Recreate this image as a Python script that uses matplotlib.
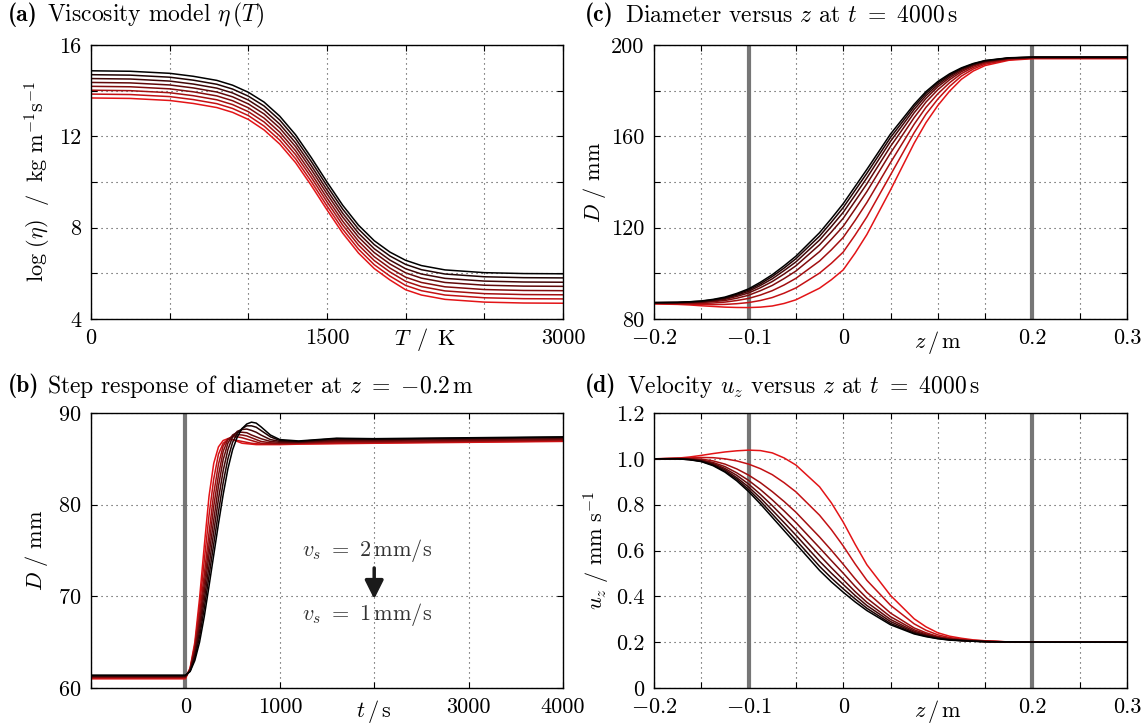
import numpy as np
import matplotlib
matplotlib.use('Agg')
import matplotlib.pyplot as plt

plt.rcParams['font.family'] = 'serif'
plt.rcParams['font.serif'] = ['cmr10']
plt.rcParams['mathtext.fontset'] = 'cm'
plt.rcParams['axes.formatter.use_mathtext'] = True
plt.rcParams['font.size'] = 16

# (a) viscosity model, 8 curves from black (v_s = 2 mm/s) to red (v_s = 1 mm/s)
T_a = [0, 250, 500, 650, 800, 900, 1000, 1100, 1200, 1300, 1400, 1500, 1600, 1700, 1800, 1900,
       2000, 2100, 2250, 2500, 2750, 3000]
eta_a = [
    [14.87, 14.85, 14.76, 14.63, 14.45, 14.24, 13.93, 13.50, 12.88, 12.07, 11.07, 10.00, 8.98, 8.11, 7.43, 6.93, 6.57, 6.34, 6.15, 6.03, 5.99, 5.98],
    [14.70, 14.68, 14.59, 14.46, 14.28, 14.07, 13.76, 13.33, 12.71, 11.90, 10.90, 9.83, 8.81, 7.94, 7.26, 6.76, 6.39, 6.16, 5.97, 5.85, 5.81, 5.80],
    [14.53, 14.51, 14.42, 14.29, 14.11, 13.90, 13.59, 13.15, 12.53, 11.72, 10.72, 9.65, 8.63, 7.76, 7.08, 6.58, 6.20, 5.97, 5.78, 5.66, 5.62, 5.61],
    [14.36, 14.34, 14.25, 14.12, 13.94, 13.73, 13.42, 12.98, 12.36, 11.55, 10.55, 9.48, 8.46, 7.59, 6.91, 6.41, 6.02, 5.79, 5.60, 5.48, 5.44, 5.43],
    [14.19, 14.17, 14.08, 13.95, 13.77, 13.56, 13.25, 12.80, 12.18, 11.37, 10.37, 9.30, 8.28, 7.41, 6.73, 6.23, 5.83, 5.60, 5.41, 5.29, 5.25, 5.24],
    [14.02, 14.00, 13.91, 13.78, 13.60, 13.39, 13.08, 12.63, 12.01, 11.20, 10.20, 9.13, 8.11, 7.24, 6.56, 6.06, 5.65, 5.42, 5.23, 5.11, 5.07, 5.06],
    [13.85, 13.83, 13.74, 13.61, 13.43, 13.22, 12.91, 12.45, 11.83, 11.02, 10.02, 8.95, 7.93, 7.06, 6.38, 5.88, 5.47, 5.24, 5.05, 4.93, 4.89, 4.88],
    [13.68, 13.66, 13.57, 13.44, 13.26, 13.05, 12.74, 12.28, 11.66, 10.85, 9.85, 8.78, 7.76, 6.89, 6.21, 5.71, 5.28, 5.05, 4.86, 4.74, 4.70, 4.69],
]

# (b) step response of diameter at z = -0.2 m
t_b = [-1000, 0, 50, 100, 150, 200, 250, 300, 350, 400, 450, 500, 550, 600, 650, 700, 750, 800,
       900, 1000, 1200, 1600, 2000, 4000]
D_b = [
    [61.4, 61.4, 61.8, 63.0, 65.0, 67.8, 71.1, 74.5, 77.9, 81.1, 83.9, 86.0, 87.4, 88.3, 88.8, 89.0, 88.9, 88.5, 87.6, 87.1, 86.95, 87.25, 87.2, 87.4],
    [61.35, 61.35, 61.85, 63.3, 65.6, 68.7, 72.2, 75.7, 79.2, 82.4, 85.0, 86.8, 87.8, 88.3, 88.6, 88.6, 88.45, 88.1, 87.4, 87.0, 86.9, 87.2, 87.15, 87.35],
    [61.3, 61.3, 61.9, 63.6, 66.2, 69.6, 73.3, 77.0, 80.6, 83.7, 86.0, 87.4, 88.0, 88.2, 88.25, 88.1, 87.9, 87.6, 87.1, 86.9, 86.85, 87.1, 87.1, 87.3],
    [61.25, 61.25, 61.95, 63.9, 66.8, 70.5, 74.5, 78.3, 82.0, 84.9, 86.7, 87.6, 87.9, 87.9, 87.85, 87.6, 87.4, 87.2, 86.9, 86.8, 86.8, 87.0, 87.0, 87.2],
    [61.2, 61.2, 62.0, 64.2, 67.4, 71.4, 75.6, 79.8, 83.2, 85.8, 87.1, 87.5, 87.65, 87.6, 87.5, 87.3, 87.1, 86.9, 86.75, 86.7, 86.75, 86.9, 86.9, 87.1],
    [61.15, 61.15, 62.05, 64.4, 68.0, 72.4, 76.9, 81.2, 84.4, 86.4, 87.2, 87.4, 87.4, 87.3, 87.15, 87.0, 86.85, 86.7, 86.65, 86.65, 86.7, 86.8, 86.8, 87.05],
    [61.1, 61.1, 62.1, 64.7, 68.9, 73.9, 78.8, 82.8, 85.5, 86.7, 87.1, 87.1, 87.0, 86.9, 86.8, 86.7, 86.65, 86.6, 86.6, 86.6, 86.65, 86.7, 86.75, 86.95],
    [61.0, 61.0, 62.2, 65.0, 69.8, 75.5, 80.9, 84.5, 86.3, 87.0, 87.2, 87.1, 86.9, 86.7, 86.65, 86.6, 86.55, 86.55, 86.55, 86.55, 86.6, 86.65, 86.7, 86.9],
]

# (c) diameter and (d) velocity versus z at t = 4000 s
z_cd = [-0.2, -0.175, -0.1625, -0.15, -0.1375, -0.125, -0.1125, -0.1, -0.0875, -0.075, -0.0625, -0.05,
        -0.025, -0.0125, 0, 0.0125, 0.025, 0.05, 0.075, 0.0875, 0.1, 0.1125, 0.125, 0.1375, 0.15,
        0.175, 0.2, 0.3]
D_c = [
    [87.2, 87.3, 87.55, 87.9, 88.6, 89.6, 91.2, 93.2, 96.1, 99.4, 103.3, 107.5, 117.8, 124.0, 130.5, 138.0, 145.5, 161.0, 174.0, 179.6, 184.0, 187.4, 190.0, 191.9, 193.2, 194.4, 194.7, 194.7],
    [87.2, 87.3, 87.5, 87.8, 88.4, 89.3, 90.8, 92.7, 95.4, 98.6, 102.3, 106.4, 116.3, 122.4, 128.8, 136.3, 143.8, 159.5, 173.0, 178.8, 183.4, 186.9, 189.7, 191.7, 193.1, 194.3, 194.7, 194.7],
    [87.1, 87.2, 87.4, 87.6, 88.2, 89.0, 90.4, 92.1, 94.7, 97.6, 101.2, 105.0, 114.6, 120.5, 126.7, 134.2, 141.8, 157.8, 171.8, 177.8, 182.6, 186.4, 189.4, 191.5, 192.9, 194.3, 194.6, 194.6],
    [87.1, 87.1, 87.2, 87.4, 87.9, 88.6, 89.9, 91.4, 93.7, 96.4, 99.7, 103.3, 112.5, 118.1, 124.1, 131.6, 139.2, 155.6, 170.3, 176.6, 181.7, 185.7, 188.9, 191.2, 192.7, 194.2, 194.5, 194.5],
    [87.0, 87.0, 87.1, 87.2, 87.6, 88.1, 89.1, 90.4, 92.4, 94.7, 97.7, 101.0, 109.5, 114.9, 120.6, 128.1, 135.8, 152.7, 168.2, 175.0, 180.4, 184.8, 188.3, 190.8, 192.5, 194.0, 194.5, 194.5],
    [86.9, 86.8, 86.8, 86.8, 87.0, 87.4, 88.1, 89.0, 90.5, 92.4, 94.9, 97.8, 105.4, 110.3, 115.7, 123.1, 131.0, 148.5, 165.3, 172.7, 178.6, 183.5, 187.5, 190.2, 192.1, 193.8, 194.3, 194.3],
    [86.8, 86.6, 86.5, 86.4, 86.3, 86.4, 86.7, 87.2, 88.1, 89.4, 91.3, 93.6, 100.1, 104.4, 109.3, 116.7, 124.7, 143.1, 161.6, 169.7, 176.3, 181.9, 186.4, 189.5, 191.6, 193.6, 194.2, 194.2],
    [86.6, 86.4, 86.15, 85.8, 85.5, 85.2, 85.05, 85.0, 85.2, 85.7, 86.8, 88.4, 93.5, 97.2, 101.5, 108.8, 117.0, 136.5, 157.0, 166.0, 173.5, 179.8, 185.0, 188.6, 191.0, 193.3, 194.0, 194.0],
]
u_d = [
    [1.0, 1.0, 0.996, 0.988, 0.970, 0.942, 0.904, 0.857, 0.803, 0.745, 0.687, 0.629, 0.513, 0.463, 0.418, 0.376, 0.338, 0.276, 0.236, 0.224, 0.215, 0.209, 0.206, 0.204, 0.202, 0.201, 0.2, 0.2],
    [1.0, 1.0, 0.997, 0.989, 0.973, 0.946, 0.911, 0.866, 0.815, 0.759, 0.703, 0.646, 0.531, 0.480, 0.433, 0.389, 0.348, 0.282, 0.239, 0.226, 0.216, 0.210, 0.207, 0.204, 0.202, 0.201, 0.2, 0.2],
    [1.0, 1.0, 0.997, 0.991, 0.976, 0.952, 0.918, 0.877, 0.829, 0.776, 0.722, 0.667, 0.553, 0.501, 0.452, 0.404, 0.360, 0.290, 0.243, 0.229, 0.218, 0.211, 0.207, 0.205, 0.202, 0.201, 0.2, 0.2],
    [1.0, 1.001, 0.998, 0.993, 0.980, 0.958, 0.928, 0.890, 0.845, 0.796, 0.744, 0.691, 0.579, 0.525, 0.473, 0.421, 0.374, 0.299, 0.248, 0.232, 0.220, 0.212, 0.208, 0.205, 0.203, 0.201, 0.2, 0.2],
    [1.0, 1.001, 0.999, 0.995, 0.984, 0.966, 0.939, 0.906, 0.866, 0.821, 0.773, 0.722, 0.612, 0.556, 0.501, 0.444, 0.392, 0.311, 0.254, 0.236, 0.222, 0.214, 0.209, 0.206, 0.203, 0.201, 0.2, 0.2],
    [1.0, 1.001, 1.001, 0.999, 0.991, 0.977, 0.956, 0.929, 0.896, 0.857, 0.814, 0.767, 0.659, 0.601, 0.540, 0.477, 0.418, 0.327, 0.262, 0.241, 0.225, 0.216, 0.210, 0.206, 0.204, 0.201, 0.2, 0.2],
    [1.0, 1.002, 1.004, 1.006, 1.005, 1.000, 0.991, 0.977, 0.957, 0.931, 0.896, 0.856, 0.754, 0.691, 0.620, 0.542, 0.470, 0.361, 0.280, 0.252, 0.232, 0.220, 0.213, 0.208, 0.205, 0.201, 0.2, 0.2],
    [1.0, 1.003, 1.008, 1.015, 1.023, 1.030, 1.035, 1.038, 1.036, 1.026, 1.004, 0.973, 0.878, 0.808, 0.724, 0.628, 0.538, 0.404, 0.302, 0.267, 0.241, 0.226, 0.217, 0.210, 0.206, 0.201, 0.2, 0.2],
]

n = len(eta_a)
colors = [(0.89 * k / (n - 1), 0.08 * k / (n - 1), 0.09 * k / (n - 1)) for k in range(n)]
gray = '#767676'

fig = plt.figure(figsize=(11.41, 7.25), dpi=100)
W, H = 1141, 725


def add_ax(x0, x1, y0, y1):
    return fig.add_axes([x0 / W, 1 - y1 / H, (x1 - x0) / W, (y1 - y0) / H])


ax_a = add_ax(91, 563, 45, 319)
ax_c = add_ax(654, 1127, 45, 319)
ax_b = add_ax(91, 563, 413, 688)
ax_d = add_ax(654, 1127, 413, 688)

for ax in (ax_a, ax_b, ax_c, ax_d):
    ax.set_axisbelow(True)
    ax.tick_params(direction='in', top=True, right=True, length=4, width=0.8,
                   labelsize=16, pad=7)
    ax.grid(True, linestyle=(0, (1, 3.5)), color='0.25', lw=0.8)
    for s in ax.spines.values():
        s.set_linewidth(1.0)
        s.set_zorder(5)

# (a)
for k in range(n - 1, -1, -1):
    ax_a.plot(T_a, eta_a[k], color=colors[k], lw=1.1)
ax_a.set_xlim(0, 3000)
ax_a.set_ylim(4, 16)
ax_a.set_xticks(range(0, 3001, 500))
ax_a.set_xticklabels(['0', '', '', '1500', '', '', '3000'])
ax_a.set_yticks(range(4, 17, 2))
ax_a.set_yticklabels(['4', '', '8', '', '12', '', '16'])
ax_a.text(2120, -0.025, r'$T\ \,/\ \,\mathrm{K}$', ha='center', va='top', fontsize=16,
          transform=ax_a.get_xaxis_transform())
ax_a.set_ylabel(r'$\log\,(\eta)\ \ /\ \ \mathrm{kg\ m^{-1}s^{-1}}$', fontsize=16, labelpad=4)

# (b)
for k in range(n - 1, -1, -1):
    ax_b.plot(t_b, D_b[k], color=colors[k], lw=1.1)
ax_b.axvline(0, color=gray, lw=3, zorder=1)
ax_b.set_xlim(-1000, 4000)
ax_b.set_ylim(60, 90)
ax_b.set_xticks(range(-1000, 4001, 1000))
ax_b.set_xticklabels(['', '0', '1000', r'$t\,/\,\mathrm{s}$', '3000', '4000'])
ax_b.set_yticks([60, 70, 80, 90])
ax_b.set_ylabel(r'$D\ /\ \mathrm{mm}$', fontsize=16, labelpad=6)
ax_b.text(1230, 75.0, r'$v_s\ =\ 2\,\mathrm{mm/s}$', ha='left', va='center', fontsize=16, color='0.2')
ax_b.text(1230, 68.0, r'$v_s\ =\ 1\,\mathrm{mm/s}$', ha='left', va='center', fontsize=16, color='0.2')
ax_b.annotate('', xy=(2000, 69.4), xytext=(2000, 73.4),
              arrowprops=dict(arrowstyle='-|>,head_width=0.35,head_length=0.7',
                              lw=2.5, color='0.1'))

# (c) and (d)
for ax, ys in ((ax_c, D_c), (ax_d, u_d)):
    for k in range(n - 1, -1, -1):
        ax.plot(z_cd, ys[k], color=colors[k], lw=1.1)
    ax.axvline(-0.1, color=gray, lw=3, zorder=1)
    ax.axvline(0.2, color=gray, lw=3, zorder=1)
    ax.set_xlim(-0.2, 0.3)
    ax.set_xticks(np.arange(-0.2, 0.301, 0.05))
    ax.set_xticklabels([r'$-0.2$', '', r'$-0.1$', '', '0', '', r'$z\,/\,\mathrm{m}$', '',
                        '0.2', '', '0.3'])

ax_c.set_ylim(80, 200)
ax_c.set_yticks(range(80, 201, 20))
ax_c.set_yticklabels(['80', '', '120', '', '160', '', '200'])
ax_c.set_ylabel(r'$D\ /\ \mathrm{mm}$', fontsize=16, labelpad=2)

ax_d.set_ylim(0, 1.2)
ax_d.set_yticks(np.arange(0, 1.21, 0.2))
ax_d.set_yticklabels(['0', '0.2', '0.4', '0.6', '0.8', '1.0', '1.2'])
ax_d.set_ylabel(r'$u_z\ /\ \mathrm{mm\ s^{-1}}$', fontsize=16, labelpad=3)

# panel titles: bold letter, then the description
titles = [
    (8, 47, 15, '(a)', r'Viscosity model $\eta\,(T)$'),
    (585, 625, 15, '(c)', r'Diameter versus $z$ at $t\ =\ 4000\,\mathrm{s}$'),
    (8, 47, 386, '(b)', r'Step response of diameter at $z\ =\ {-}0.2\,\mathrm{m}$'),
    (585, 627, 386, '(d)', r'Velocity $u_z$ versus $z$ at $t\ =\ 4000\,\mathrm{s}$'),
]
for x_tag, x_txt, y, tag, txt in titles:
    fig.text(x_tag / W, 1 - y / H, tag, fontsize=17, fontfamily='cmb10', va='center', ha='left')
    fig.text(x_txt / W, 1 - y / H, txt, fontsize=17, va='center', ha='left')

fig.savefig('out.png', dpi=100)
